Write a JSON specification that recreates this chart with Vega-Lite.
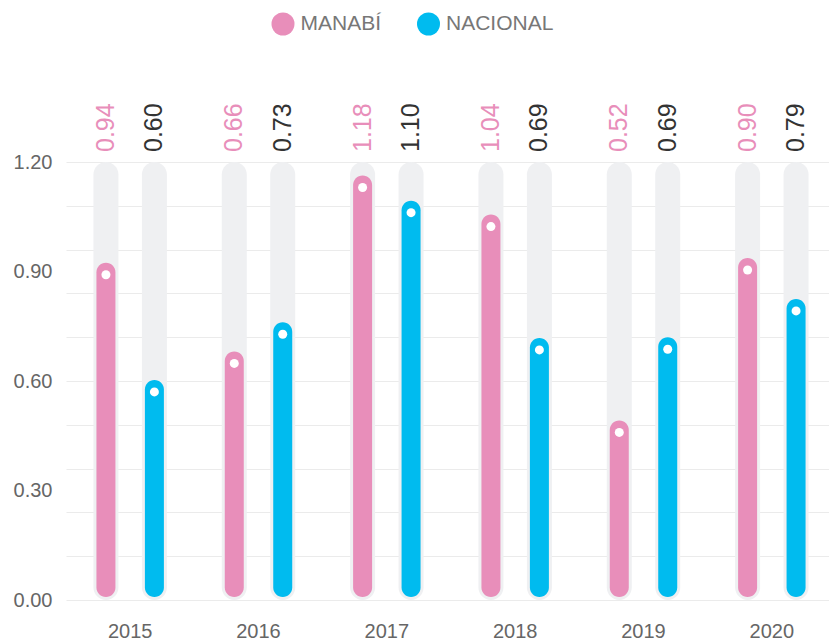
{
  "$schema": "https://vega.github.io/schema/vega-lite/v6.json",
  "width": 764,
  "height": 438,
  "autosize": {"type": "none"},
  "padding": {"left": 65, "top": 162, "right": 0, "bottom": 42},
  "background": "#ffffff",
  "config": {
    "view": {"stroke": null},
    "font": "Liberation Sans",
    "axis": {"domain": false, "ticks": false, "labelFont": "Liberation Sans", "labelFontSize": 20, "labelColor": "#666666", "title": null}
  },
  "data": {
    "values": [
      {"year": "2015", "series": "MANABÍ", "value": 0.924, "label": "0.94"},
      {"year": "2015", "series": "NACIONAL", "value": 0.603, "label": "0.60"},
      {"year": "2016", "series": "MANABÍ", "value": 0.681, "label": "0.66"},
      {"year": "2016", "series": "NACIONAL", "value": 0.761, "label": "0.73"},
      {"year": "2017", "series": "MANABÍ", "value": 1.163, "label": "1.18"},
      {"year": "2017", "series": "NACIONAL", "value": 1.094, "label": "1.10"},
      {"year": "2018", "series": "MANABÍ", "value": 1.056, "label": "1.04"},
      {"year": "2018", "series": "NACIONAL", "value": 0.718, "label": "0.69"},
      {"year": "2019", "series": "MANABÍ", "value": 0.492, "label": "0.52"},
      {"year": "2019", "series": "NACIONAL", "value": 0.720, "label": "0.69"},
      {"year": "2020", "series": "MANABÍ", "value": 0.937, "label": "0.90"},
      {"year": "2020", "series": "NACIONAL", "value": 0.825, "label": "0.79"}
    ]
  },
  "encoding": {
    "x": {
      "field": "year", "type": "nominal",
      "scale": {"paddingInner": 0, "paddingOuter": 0, "range": [1, 771]},
      "axis": {"labelAngle": 0, "labelPadding": 21, "grid": false}
    },
    "xOffset": {"field": "series", "type": "nominal", "scale": {"paddingInner": 0, "paddingOuter": 0.324}}
  },
  "resolve": {"axis": {"y": "independent"}},
  "layer": [
    {
      "mark": {"type": "bar", "width": 25, "cornerRadius": 12.5, "color": "#eff0f2"},
      "encoding": {
        "y": {
          "datum": 1.2, "type": "quantitative",
          "scale": {"domain": [0, 1.2], "nice": false},
          "axis": {
            "orient": "left",
            "grid": true,
            "labels": false,
            "values": [0, 0.12, 0.24, 0.36, 0.48, 0.6, 0.72, 0.84, 0.96, 1.08, 1.2],
            "gridColor": "#ebebeb",
            "gridWidth": 1
          }
        },
        "y2": {"datum": 0}
      }
    },
    {
      "mark": {"type": "bar", "width": 19, "cornerRadius": 9.5, "y2Offset": -3},
      "encoding": {
        "y": {
          "field": "value", "type": "quantitative",
          "axis": {
            "orient": "left",
            "grid": false,
            "values": [0, 0.3, 0.6, 0.9, 1.2],
            "format": ".2f",
            "labelOverlap": false,
            "labelPadding": 13
          }
        },
        "y2": {"datum": 0},
        "color": {
          "field": "series", "type": "nominal",
          "scale": {"domain": ["MANABÍ", "NACIONAL"], "range": ["#e88eba", "#00bbef"]},
          "legend": {
            "title": null, "orient": "none", "direction": "horizontal",
            "legendX": 206.5, "legendY": -149.5, "padding": 0,
            "symbolType": "circle", "symbolSize": 529, "symbolStrokeWidth": 0, "symbolOpacity": 1,
            "labelFont": "Liberation Sans", "labelFontSize": 21, "labelColor": "#777777",
            "labelOffset": 6, "columnPadding": 35.5
          }
        }
      }
    },
    {
      "mark": {"type": "point", "filled": true, "color": "#ffffff", "opacity": 1, "size": 81, "yOffset": 12},
      "encoding": {
        "y": {"field": "value", "type": "quantitative", "axis": null}
      }
    },
    {
      "mark": {"type": "text", "angle": 270, "align": "left", "baseline": "middle", "fontSize": 25, "font": "Liberation Sans", "yOffset": -10},
      "encoding": {
        "y": {"datum": 1.2, "type": "quantitative", "axis": null},
        "text": {"field": "label"},
        "color": {"condition": {"test": "datum.series == 'MANABÍ'", "value": "#e88eba"}, "value": "#333333"}
      }
    }
  ]
}
